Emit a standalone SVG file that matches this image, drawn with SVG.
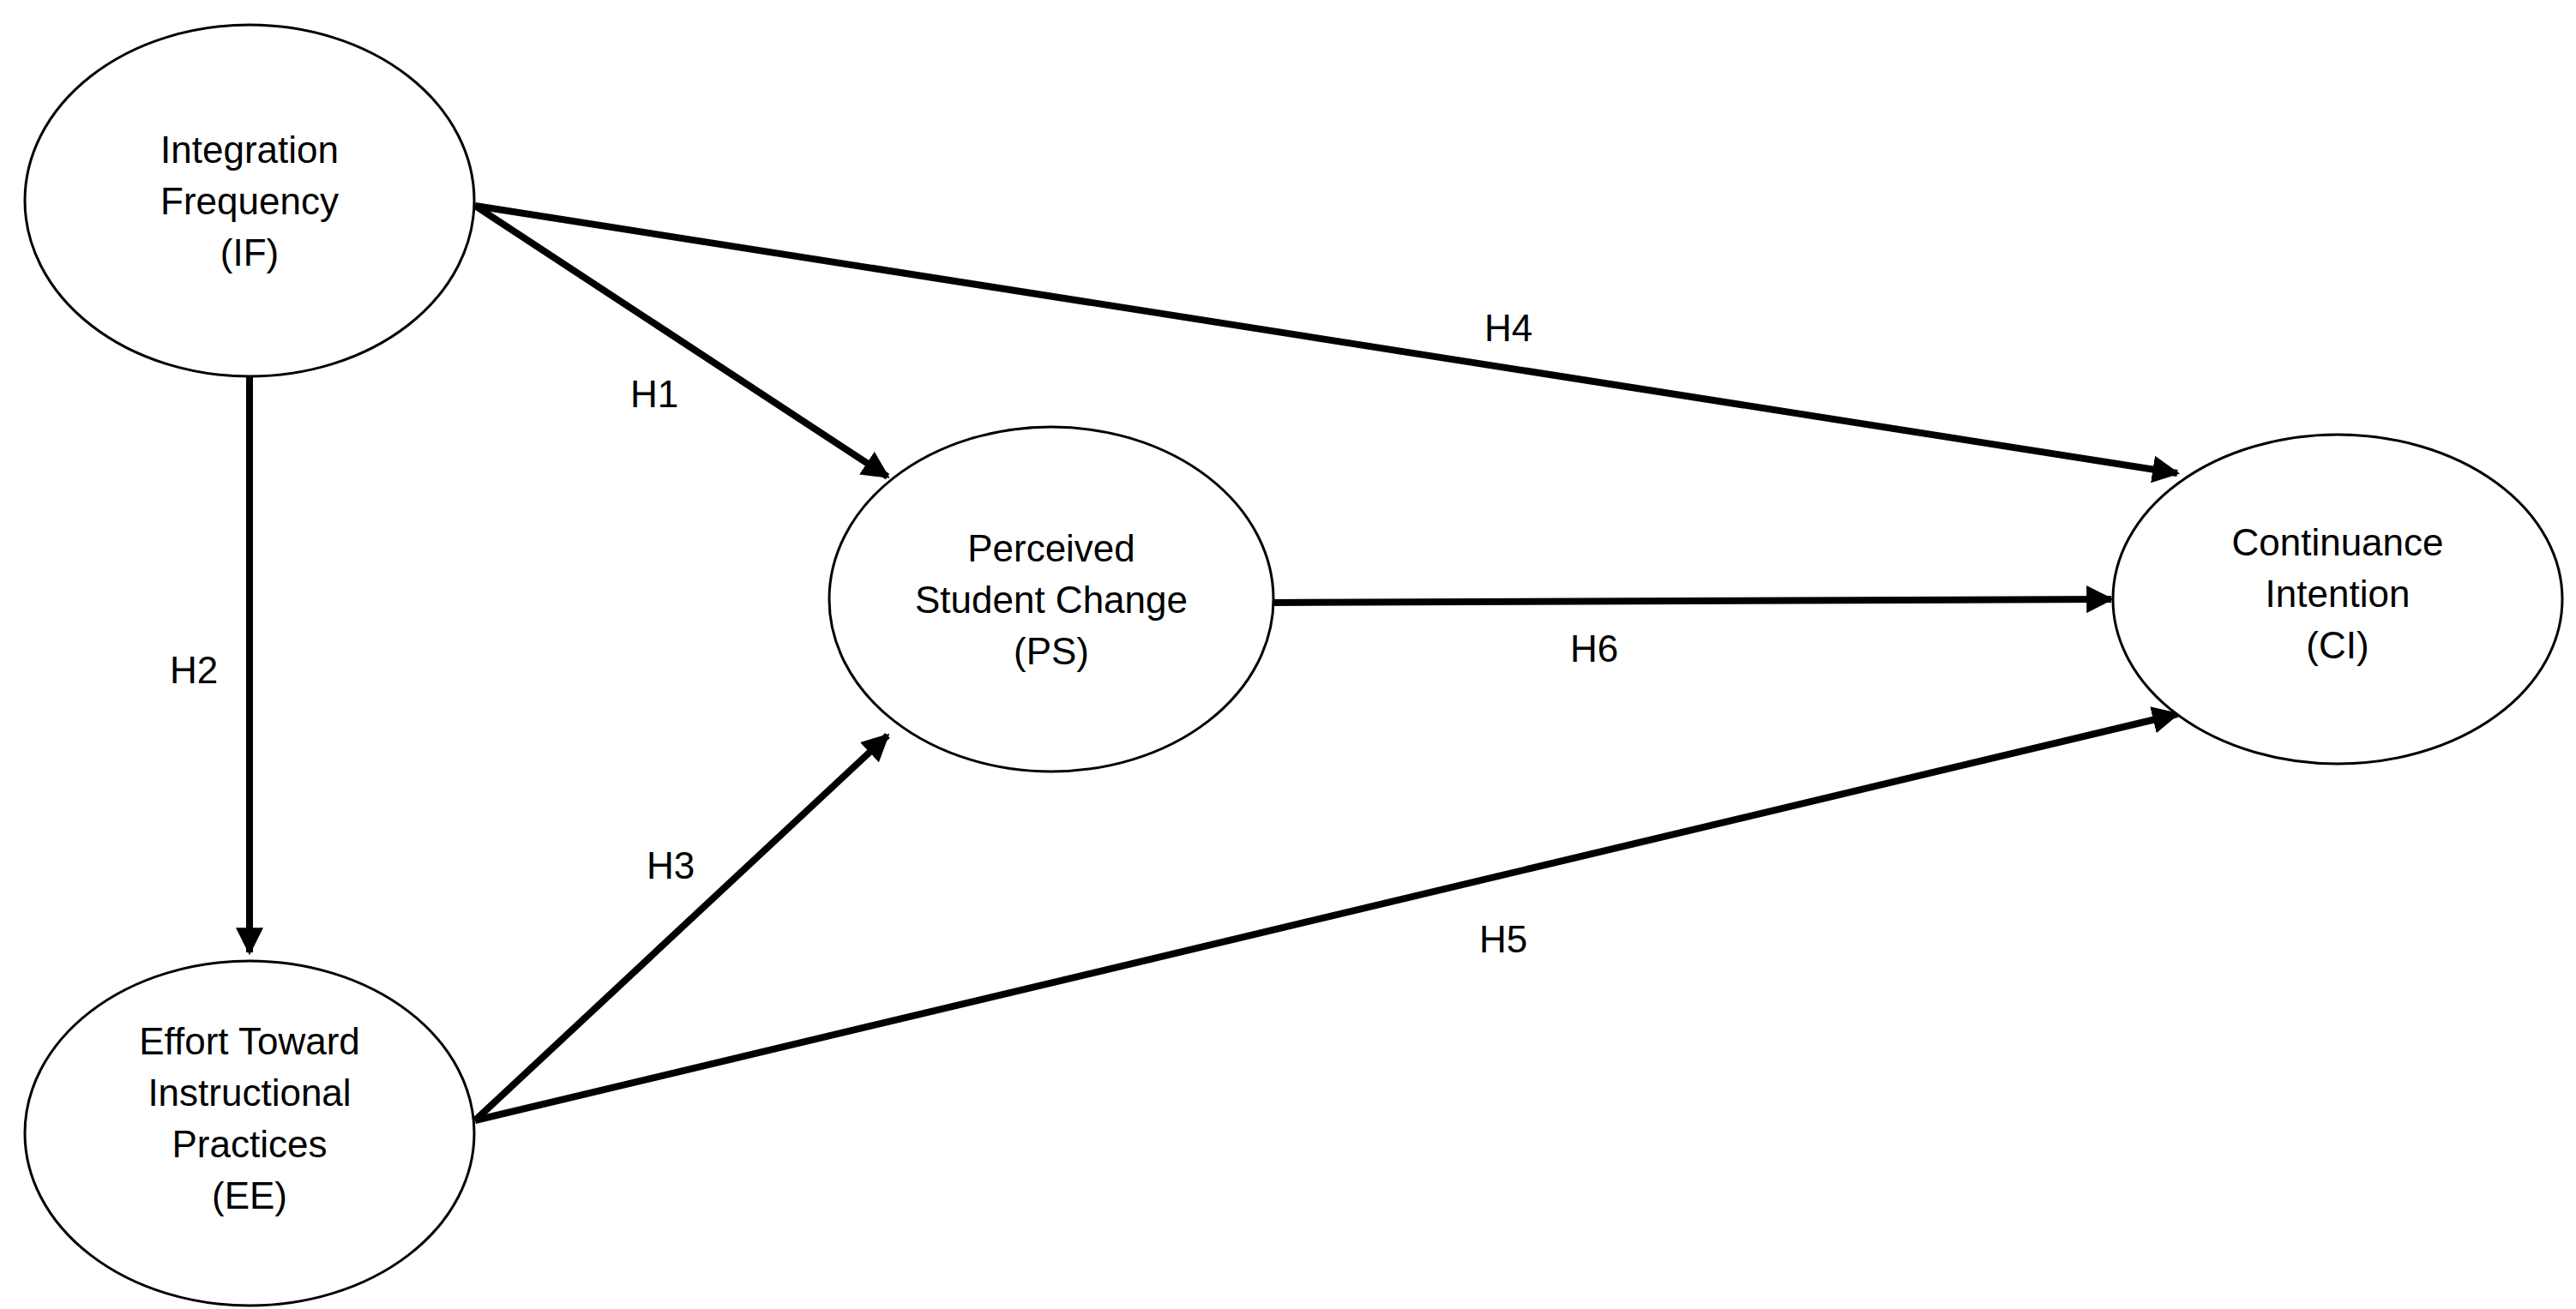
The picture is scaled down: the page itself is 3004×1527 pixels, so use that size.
<svg xmlns="http://www.w3.org/2000/svg" width="3004" height="1527" viewBox="0 0 3004 1527">
<style>
.n{fill:#fff;stroke:#000;stroke-width:3}
text{font-family:"Liberation Sans",Arial,sans-serif;font-size:44px;fill:#000;text-anchor:middle}
.c line{stroke:#000;stroke-width:8;marker-end:url(#a)}
</style>
<defs><marker id="a" viewBox="0 0 10 10" refX="9" refY="5" markerWidth="4" markerHeight="4" orient="auto" markerUnits="strokeWidth"><path d="M0,0L10,5L0,10z" fill="#000"/></marker></defs>
<rect width="3004" height="1527" fill="#fff"/>
<g class="c">
<line x1="554" y1="240" x2="1035" y2="556"/>
<line x1="554" y1="240" x2="2539" y2="552"/>
<line x1="291" y1="437" x2="291" y2="1111"/>
<line x1="554" y1="1307" x2="1035" y2="858"/>
<line x1="554" y1="1307" x2="2539" y2="833"/>
<line x1="1485" y1="703" x2="2462" y2="699"/>
<text x="763" y="475">H1</text><text x="1759" y="398">H4</text><text x="226" y="797">H2</text><text x="1859" y="772">H6</text><text x="782" y="1025">H3</text><text x="1753" y="1111">H5</text>
</g>
<g id="IF"><ellipse class="n" cx="291" cy="234" rx="262" ry="205"/><text x="291" y="190">Integration</text><text x="291" y="250">Frequency</text><text x="291" y="310">(IF)</text></g>
<g id="EE"><ellipse class="n" cx="291" cy="1322" rx="262" ry="201"/><text x="291" y="1230">Effort Toward</text><text x="291" y="1290">Instructional</text><text x="291" y="1350">Practices</text><text x="291" y="1410">(EE)</text></g>
<g id="PS"><ellipse class="n" cx="1226" cy="699" rx="259" ry="201"/><text x="1226" y="655">Perceived</text><text x="1226" y="715">Student Change</text><text x="1226" y="775">(PS)</text></g>
<g id="CI"><ellipse class="n" cx="2726" cy="699" rx="262" ry="192"/><text x="2726" y="648">Continuance</text><text x="2726" y="708">Intention</text><text x="2726" y="768">(CI)</text></g>
</svg>
